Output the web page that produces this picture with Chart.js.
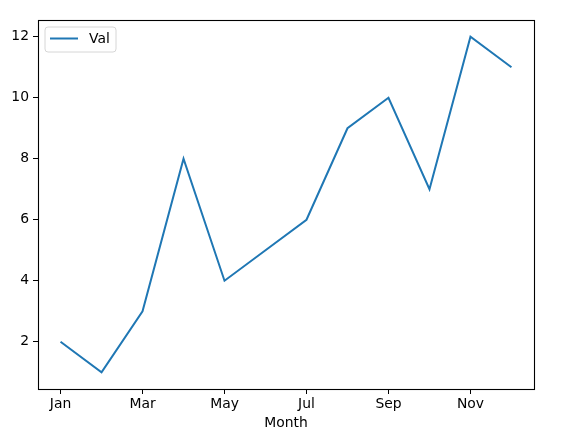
<!DOCTYPE html>
<html>
<head>
<meta charset="utf-8">
<script src="https://cdn.jsdelivr.net/npm/chart.js@4/dist/chart.umd.min.js"></script>
<style>
  html, body { margin: 0; padding: 0; background: #fff; }
  #wrap { width: 566px; height: 440px; }
</style>
</head>
<body>
<div id="wrap"><canvas id="myChart" width="566" height="440"></canvas></div>
<script>
// data
var months = ["Jan", "Feb", "Mar", "Apr", "May", "Jun", "Jul", "Aug", "Sep", "Oct", "Nov", "Dec"];
var values = [2, 1, 3, 8, 4, 5, 6, 9, 10, 7, 12, 11];
var xTickIdx = [0, 2, 4, 6, 8, 10];
var yTicks = [2, 4, 6, 8, 10, 12];
var seriesName = "Val";
var xTitle = "Month";

var lineColor = '#1f77b4';
var fontFamily = "'DejaVu Sans', sans-serif";
var fontSize = 13.9;

// matplotlib-like 5% margins
var xMin = -0.55, xMax = months.length - 1 + 0.55;
var yLo = Math.min.apply(null, values), yHi = Math.max.apply(null, values);
var yPad = (yHi - yLo) * 0.05;

var framePlugin = {
  id: 'frame',
  afterDraw: function (chart) {
    var ctx = chart.ctx, a = chart.chartArea;
    ctx.save();
    ctx.strokeStyle = '#000';
    ctx.lineWidth = 1.1;
    ctx.strokeRect(Math.round(a.left) + 0.5, Math.round(a.top) + 0.5,
      Math.round(a.right - a.left), Math.round(a.bottom - a.top));

    // legend box, top-left inside the axes
    var x = a.left + 7, y = a.top + 7, w = 71, h = 25, r = 3;
    ctx.beginPath();
    ctx.moveTo(x + r, y);
    ctx.arcTo(x + w, y, x + w, y + h, r);
    ctx.arcTo(x + w, y + h, x, y + h, r);
    ctx.arcTo(x, y + h, x, y, r);
    ctx.arcTo(x, y, x + w, y, r);
    ctx.closePath();
    ctx.fillStyle = 'rgba(255,255,255,0.8)';
    ctx.fill();
    ctx.strokeStyle = '#d6d6d6';
    ctx.lineWidth = 1;
    ctx.stroke();

    ctx.beginPath();
    ctx.moveTo(x + 5, y + 11.5);
    ctx.lineTo(x + 33, y + 11.5);
    ctx.strokeStyle = lineColor;
    ctx.lineWidth = 2;
    ctx.stroke();

    ctx.fillStyle = '#000';
    ctx.font = fontSize + 'px ' + fontFamily;
    ctx.textBaseline = 'middle';
    ctx.textAlign = 'left';
    ctx.fillText(seriesName, x + 44, y + 12.5);
    ctx.restore();
  }
};

var ctx = document.getElementById("myChart");
var chart = new Chart(ctx, {
  type: 'line',
  data: {
    datasets: [{
      label: seriesName,
      data: values.map(function (v, i) { return { x: i, y: v }; }),
      borderColor: lineColor,
      backgroundColor: lineColor,
      borderWidth: 2,
      tension: 0,
      pointRadius: 0,
      fill: false
    }]
  },
  options: {
    responsive: false,
    animation: false,
    layout: { padding: { top: 20, right: 32, left: 0, bottom: 0 } },
    plugins: {
      legend: { display: false },
      tooltip: { enabled: false }
    },
    scales: {
      x: {
        type: 'linear',
        min: xMin,
        max: xMax,
        afterBuildTicks: function (scale) {
          scale.ticks = xTickIdx.map(function (v) { return { value: v }; });
        },
        afterFit: function (scale) { scale.height = 51; },
        ticks: {
          autoSkip: false,
          maxRotation: 0,
          padding: 2,
          color: '#000',
          font: { family: fontFamily, size: fontSize },
          callback: function (v) { return months[v]; }
        },
        grid: { display: true, drawOnChartArea: false, drawTicks: true, tickLength: 5, color: '#000', lineWidth: 1 },
        border: { display: false },
        title: {
          display: true,
          text: xTitle,
          color: '#000',
          font: { family: fontFamily, size: fontSize },
          padding: { top: 2, bottom: 8 }
        }
      },
      y: {
        type: 'linear',
        min: yLo - yPad,
        max: yHi + yPad,
        afterBuildTicks: function (scale) {
          scale.ticks = yTicks.map(function (v) { return { value: v }; });
        },
        afterFit: function (scale) { scale.width = 38; },
        ticks: {
          padding: 4,
          color: '#000',
          font: { family: fontFamily, size: fontSize }
        },
        grid: { display: true, drawOnChartArea: false, drawTicks: true, tickLength: 5, color: '#000', lineWidth: 1 },
        border: { display: false }
      }
    }
  },
  plugins: [framePlugin]
});
</script>
</body>
</html>
